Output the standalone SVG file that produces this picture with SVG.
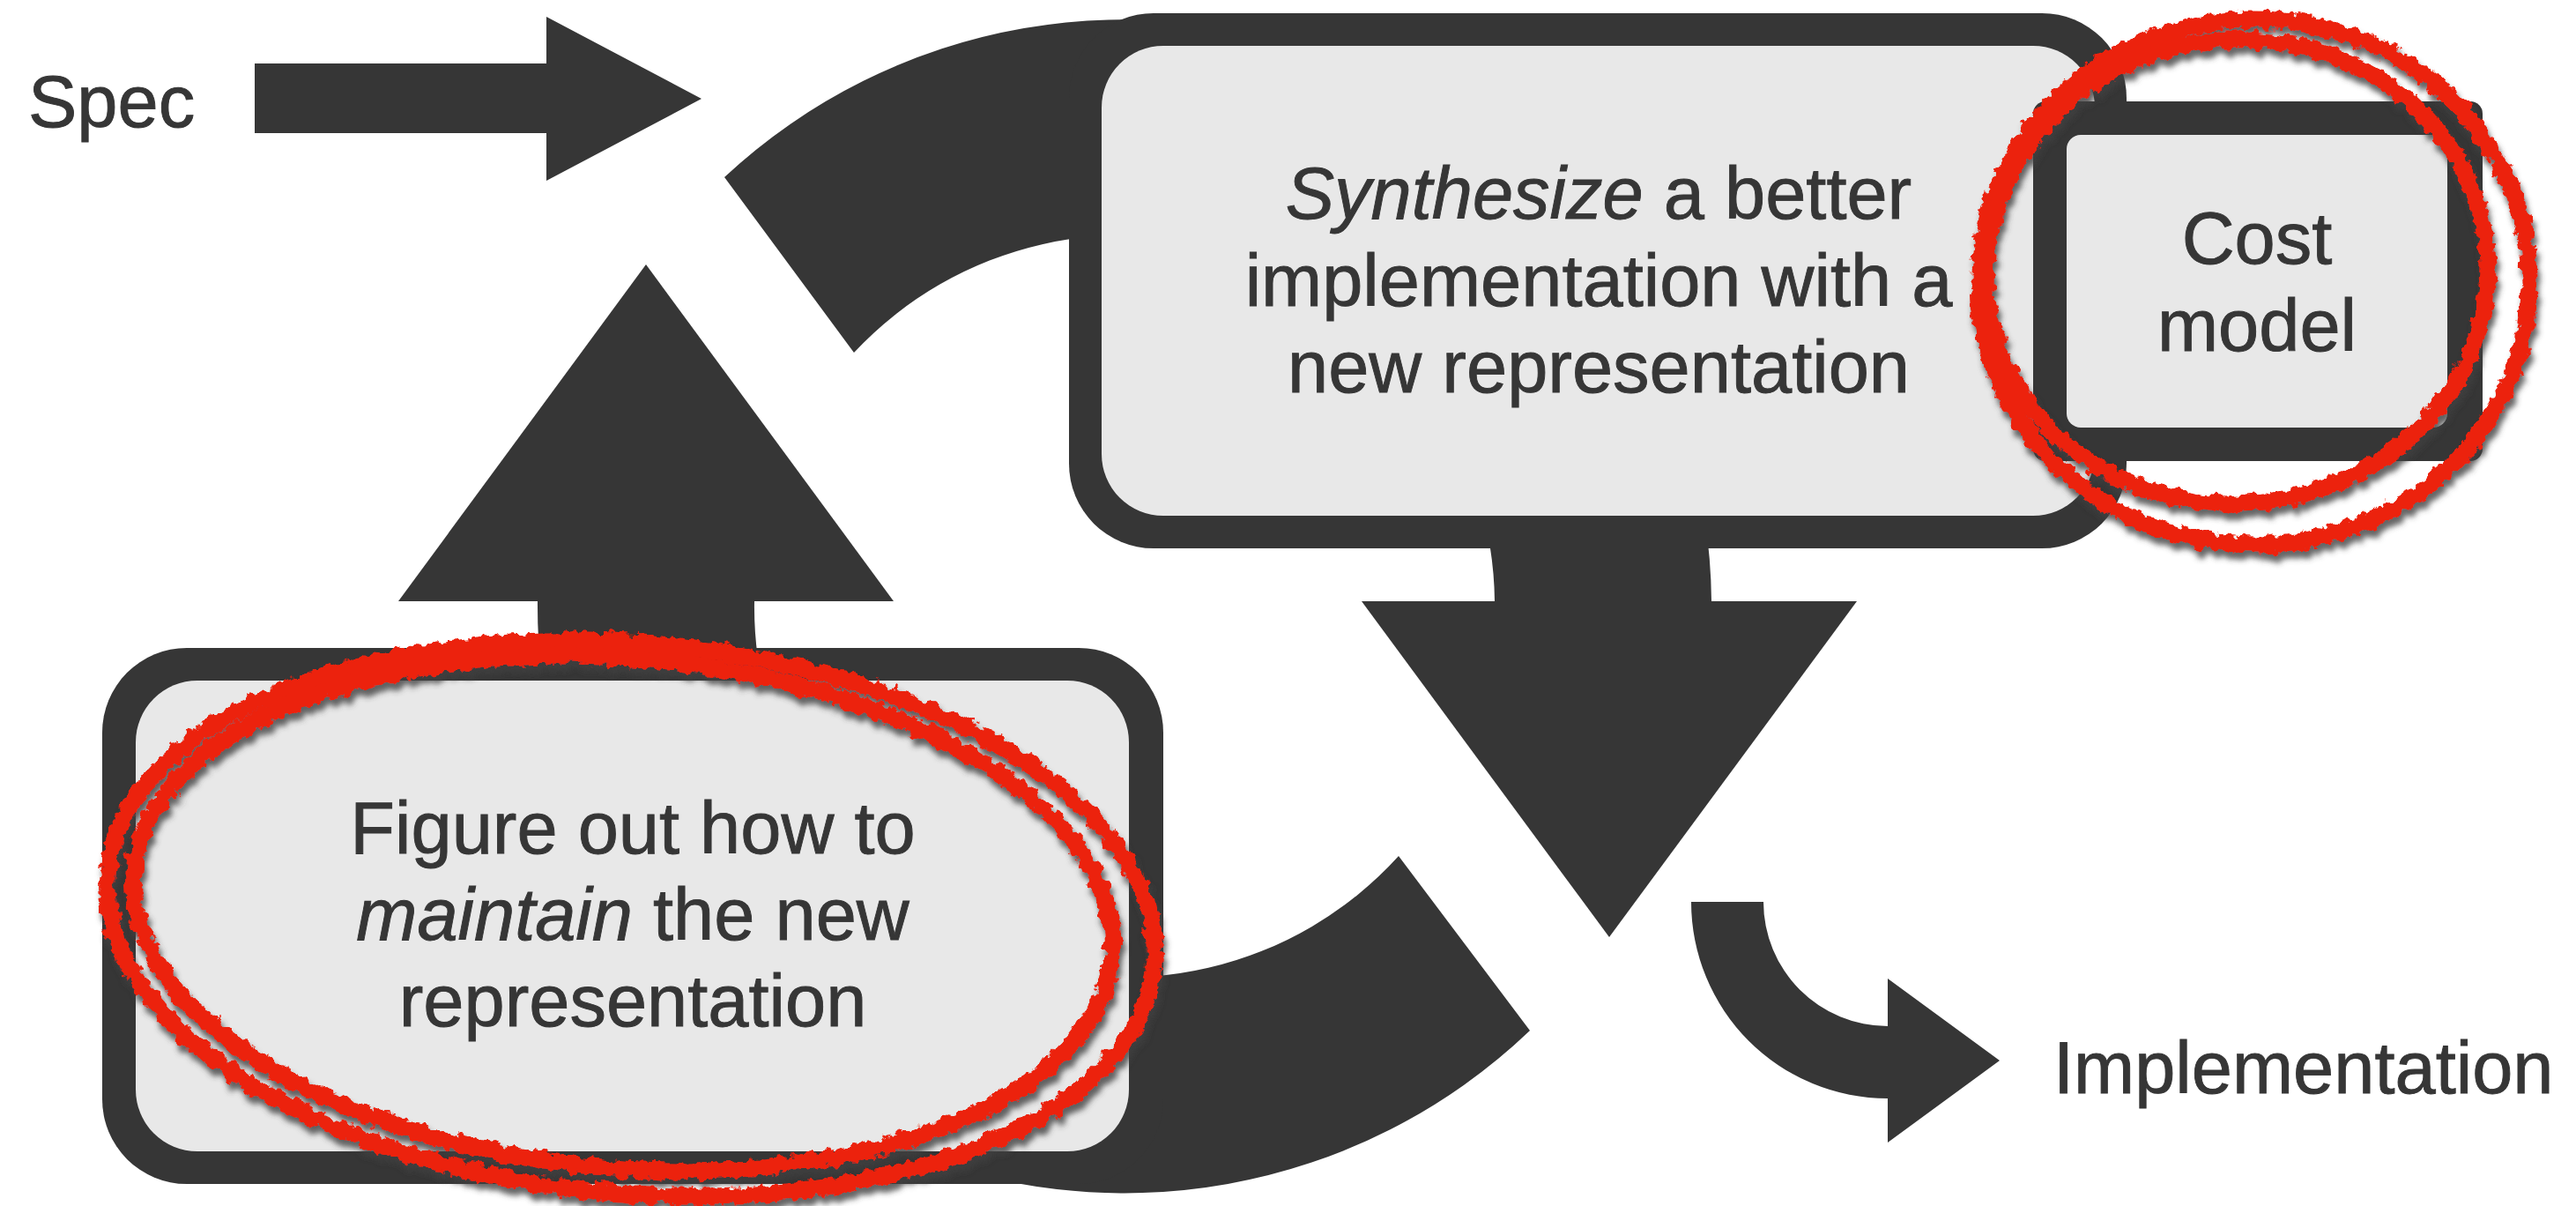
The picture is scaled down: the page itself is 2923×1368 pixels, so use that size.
<svg xmlns="http://www.w3.org/2000/svg" width="2923" height="1368" viewBox="0 0 2923 1368">
<defs>
<style>
.dk{fill:#363636}
.lt{fill:#e8e8e8}
.t{font-family:"Liberation Sans",Arial,Helvetica,sans-serif;font-size:83px;fill:#363636;stroke:#363636;stroke-width:0.9px;text-anchor:middle}
.ts{font-family:"Liberation Sans",Arial,Helvetica,sans-serif;font-size:83px;fill:#363636;stroke:#363636;stroke-width:0.9px;text-anchor:start}
.scrib{fill:none;stroke:#ec2210;stroke-width:19}
</style>
<filter id="chalk" filterUnits="userSpaceOnUse" x="0" y="0" width="2923" height="1368">
<feTurbulence type="fractalNoise" baseFrequency="0.09" numOctaves="3" seed="7" result="n"/>
<feDisplacementMap in="SourceGraphic" in2="n" scale="14" xChannelSelector="R" yChannelSelector="G" result="d"/>
<feGaussianBlur in="d" stdDeviation="3" result="b"/>
<feFlood flood-color="#404040" flood-opacity="0.8" result="f"/>
<feComposite in="f" in2="b" operator="in" result="sh"/>
<feOffset in="sh" dx="3" dy="8" result="sho"/>
<feMerge><feMergeNode in="sho"/><feMergeNode in="d"/></feMerge>
</filter>
</defs>
<rect width="2923" height="1368" fill="#ffffff"/>

<g id="connectors">
<path class="dk" d="M822,201 A666,666 0 0 1 1942,682 L1696,682 A420,420 0 0 0 969,400 Z"/>
<path class="dk" d="M610,682 A666,666 0 0 0 1736,1169 L1587,971 A420,420 0 0 1 856,682 Z"/>
<polygon class="dk" points="452,682 733,300 1014,682"/>
<polygon class="dk" points="1545,682 2107,682 1826,1063"/>
<path class="dk" d="M289,72 L620,72 L620,19 L796,112 L620,205 L620,151 L289,151 Z"/>
<path class="dk" d="M1919,1023 L2001,1023 A141,141 0 0 0 2142,1164 L2142,1110 L2269,1203 L2142,1296 L2142,1246 A223,223 0 0 1 1919,1023 Z"/>
</g>

<g id="node-spec">
<text class="ts" x="32" y="144">Spec</text>
</g>

<g id="node-synthesize">
<rect class="dk" x="1213" y="15" width="1200" height="607" rx="96"/>
<rect class="lt" x="1250" y="52" width="1127" height="533" rx="70"/>
<text class="t" x="1814" y="248"><tspan font-style="italic">Synthesize</tspan> a better</text>
<text class="t" x="1814" y="347">implementation with a</text>
<text class="t" x="1814" y="445">new representation</text>
</g>

<g id="node-cost">
<rect class="dk" x="2307" y="115" width="510" height="408" rx="14"/>
<rect class="lt" x="2345" y="153" width="432" height="332" rx="16"/>
<text class="t" x="2561" y="299">Cost</text>
<text class="t" x="2561" y="398">model</text>
</g>

<g id="node-maintain">
<rect class="dk" x="116" y="735" width="1204" height="608" rx="96"/>
<rect class="lt" x="154" y="772" width="1127" height="534" rx="70"/>
<text class="t" x="718" y="968">Figure out how to</text>
<text class="t" x="718" y="1066"><tspan font-style="italic">maintain</tspan> the new</text>
<text class="t" x="718" y="1164">representation</text>
</g>

<g id="node-impl">
<text class="ts" x="2330" y="1240">Implementation</text>
</g>

<g id="highlights" filter="url(#chalk)">
<ellipse class="scrib" cx="2558" cy="320" rx="312" ry="298"/>
<ellipse class="scrib" cx="2538" cy="308" rx="285" ry="263" transform="rotate(-4 2538 308)"/>
<ellipse class="scrib" cx="716" cy="1042" rx="596" ry="312" transform="rotate(5 716 1042)"/>
<ellipse class="scrib" cx="707" cy="1036" rx="557" ry="289" transform="rotate(5 707 1036)"/>
</g>
</svg>
